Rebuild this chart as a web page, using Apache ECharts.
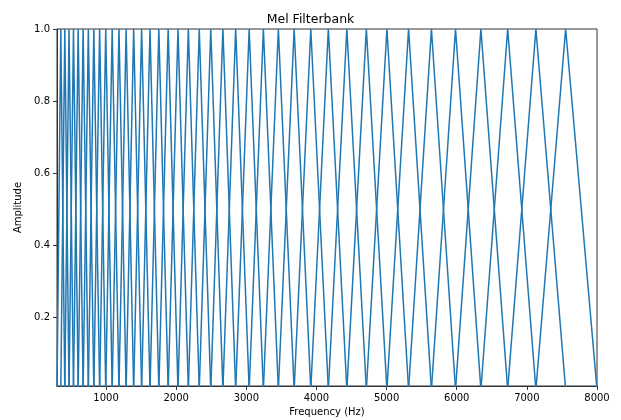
<!DOCTYPE html>
<html>
<head>
<meta charset="utf-8">
<script src="https://cdn.jsdelivr.net/npm/echarts@6/dist/echarts.min.js"></script>
<style>
html,body{margin:0;padding:0;background:#fff;}
#chart{width:621px;height:420px;}
</style>
</head>
<body>
<div id="chart"></div>
<script>
// Band edge / center frequencies (Hz) of the 40 triangular mel filters
const melPointsHz = [300.0, 354.2, 411.3, 471.5, 535.0, 601.9, 672.4, 746.8, 825.2, 907.8,
  994.9, 1086.8, 1183.6, 1285.6, 1393.2, 1506.6, 1626.2, 1752.2, 1885.1, 2025.1,
  2172.8, 2328.4, 2492.5, 2665.5, 2847.8, 3040.1, 3242.7, 3456.3, 3681.5, 3918.9,
  4169.2, 4433.0, 4711.1, 5004.2, 5313.3, 5639.1, 5982.6, 6344.6, 6726.3, 7128.7,
  7552.9, 8000.0];
// Amplitude at left foot, peak, right foot of each triangle
const triangleShape = [0, 1, 0];
const xTicks = [1000, 2000, 3000, 4000, 5000, 6000, 7000, 8000];
const yTicks = [0.2, 0.4, 0.6, 0.8, 1.0];

const series = [];
for (let k = 0; k + 2 < melPointsHz.length; k++) {
  series.push({
    type: 'line',
    data: [
      [melPointsHz[k], triangleShape[0]],
      [melPointsHz[k + 1], triangleShape[1]],
      [melPointsHz[k + 2], triangleShape[2]]
    ],
    showSymbol: false,
    symbol: 'none',
    lineStyle: { color: '#1f77b4', width: 1.5 },
    itemStyle: { color: '#1f77b4' },
    clip: true,
    silent: true
  });
}

const chart = echarts.init(document.getElementById('chart'), null, { renderer: 'canvas' });
const font = 'DejaVu Sans';
chart.setOption({
  animation: false,
  backgroundColor: '#fff',
  title: {
    text: 'Mel Filterbank',
    left: 'center',
    top: 8,
    textStyle: { fontFamily: font, fontSize: 12.5, fontWeight: 'normal', color: '#000' }
  },
  grid: {
    left: 57, right: 24, top: 29, bottom: 34,
    outerBoundsMode: 'none',
    containLabel: false,
    show: true, borderColor: '#333', borderWidth: 1, backgroundColor: 'transparent'
  },
  xAxis: {
    type: 'value',
    min: 300, max: 8000,
    name: 'Frequency (Hz)',
    nameLocation: 'middle',
    nameGap: 21,
    nameTextStyle: { fontFamily: font, fontSize: 10, color: '#000' },
    axisLine: { show: true, onZero: false, lineStyle: { color: '#333', width: 1 } },
    axisTick: { show: true, inside: false, length: 4, customValues: xTicks, lineStyle: { color: '#333' } },
    axisLabel: {
      customValues: xTicks, fontFamily: font, fontSize: 10, color: '#000', margin: 7,
      formatter: v => String(v)
    },
    splitLine: { show: false }
  },
  yAxis: {
    type: 'value',
    min: 0.01, max: 1.0,
    name: 'Amplitude',
    nameLocation: 'middle',
    nameGap: 30,
    nameTextStyle: { fontFamily: font, fontSize: 10, color: '#000' },
    axisLine: { show: true, onZero: false, lineStyle: { color: '#333', width: 1 } },
    axisTick: { show: true, inside: false, length: 4, customValues: yTicks, lineStyle: { color: '#333' } },
    axisLabel: {
      customValues: yTicks, fontFamily: font, fontSize: 10, color: '#000', margin: 7,
      formatter: v => v.toFixed(1)
    },
    splitLine: { show: false }
  },
  series: series
});
</script>
</body>
</html>
